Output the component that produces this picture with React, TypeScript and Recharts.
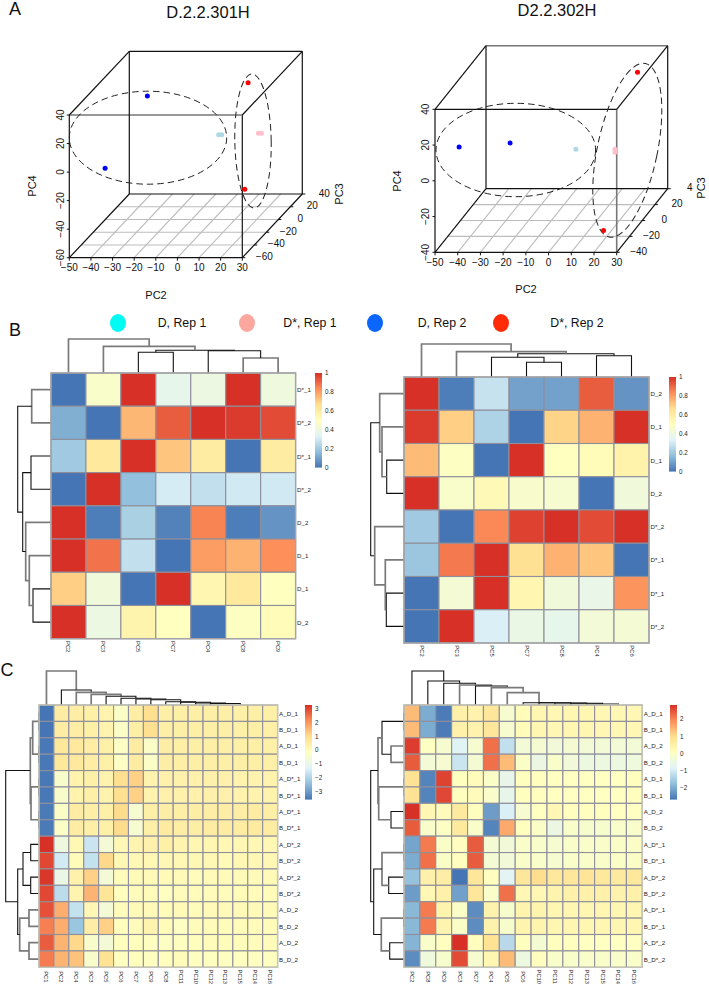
import React from "react";
import { Bar, BarChart, Scatter, ScatterChart, XAxis, YAxis } from "recharts";

const FONT = "'Liberation Sans', Arial, sans-serif";
const RAMP = ["#4575B4", "#91BFDB", "#E0F3F8", "#FFFFBF", "#FEE090", "#FC8D59", "#D73027"];

// panel A: [PC2, PC3, PC4]
const pts301Blue = [[-36.1, 20, 17.6], [-39, -40, -6.3]];
const pts301Light = [[5.2, -10, 3.9], [6.6, -10, 3.9]];
const pts301Pink = [[20.8, 0, 0.4], [22.2, 0, 0.4]];
const pts301Red = [[7.7, 30, 22.5], [22.8, -30, -25.5]];
const pts302Blue = [[-45, -20, 10], [-33.8, 20, -5.5]];
const pts302Light = [[0.8, 0, -0.2]];
const pts302Pink = [[15.2, 10, -4.6], [15.2, 10, -6.2]];
const pts302Red = [[19.5, 30, 29.6], [21.4, -30, -32.2]];

const pc2Ticks = [-50, -40, -30, -20, -10, 0, 10, 20, 30];
const pc3Ticks301 = [-60, -40, -20, 0, 20, 40];
const pc4Ticks301 = [-60, -40, -20, 0, 20, 40];
const pc3Ticks302 = [-40, -20, 0, 20, 40];
const pc4Ticks302 = [-40, -20, 0, 20, 40];

// panel B
const colsB1 = ["PC2", "PC3", "PC5", "PC7", "PC4", "PC8", "PC9"];
const rowsB1 = ["D*_1", "D*_2", "D*_1", "D*_2", "D_2", "D_1", "D_1", "D_2"];
const valsB1 = [
  [0, 0.47, 1, 0.37, 0.4, 1, 0.41],
  [0.13, 0, 0.75, 0.92, 1, 0.98, 0.95],
  [0.2, 0.62, 1, 0.72, 0.6, 0, 0.6],
  [0, 1, 0.17, 0.31, 0.27, 0.3, 0.3],
  [1, 0.02, 0.22, 0.03, 0.85, 0.02, 0.07],
  [1, 0.88, 0.27, 0, 0.8, 0.76, 0.83],
  [0.7, 0.42, 0, 1, 0.55, 0.62, 0.5],
  [1, 0.4, 0.56, 0.5, 0, 0.49, 0.52],
];
const colsB2 = ["PC2", "PC3", "PC5", "PC7", "PC8", "PC4", "PC6"];
const rowsB2 = ["D_2", "D_1", "D_1", "D_2", "D*_2", "D*_1", "D*_1", "D*_2"];
const valsB2 = [
  [1, 0.02, 0.28, 0.1, 0.1, 0.92, 0.07],
  [0.98, 0.7, 0.23, 0, 0.69, 0.76, 1],
  [0.74, 0.49, 0, 1, 0.5, 0.52, 0.57],
  [1, 0.47, 0.53, 0.46, 0.45, 0, 0.42],
  [0.2, 0, 0.84, 0.97, 1, 0.95, 1],
  [0.19, 0.87, 1, 0.66, 0.76, 0.72, 0],
  [0, 0.44, 1, 0.55, 0.42, 0.38, 0.82],
  [0, 1, 0.32, 0.39, 0.37, 0.43, 0.44],
];
const ticksB = [0, 0.2, 0.4, 0.6, 0.8, 1];

// panel C
const colsC1 = ["PC1", "PC2", "PC4", "PC3", "PC5", "PC6", "PC7", "PC9", "PC8", "PC11", "PC10", "PC12", "PC13", "PC15", "PC14", "PC16"];
const rowsC1 = ["A_D_1", "B_D_1", "A_D_1", "B_D_1", "A_D*_1", "B_D*_1", "A_D*_1", "B_D*_1", "A_D*_2", "B_D*_2", "A_D*_2", "B_D*_2", "A_D_2", "B_D_2", "A_D_2", "B_D_2"];
const valsC1 = [
  [-3.59, 0.55, 0.5, 0.4, 0.3, -0.3, 0.5, 1, 0.45, 0.45, 0.45, 0.45, 0.45, 0.4, 0.45, 0.4],
  [-3.59, 0.55, 0.5, 0.4, 0.3, -0.3, 0.45, 1, 0.45, 0.45, 0.45, 0.45, 0.45, 0.4, 0.45, 0.4],
  [-3.55, 0.7, 0.65, 0.5, 0.4, -0.25, 0.55, -0.3, 0.5, 0.45, 0.45, 0.45, 0.45, 0.4, 0.45, 0.4],
  [-3.55, 0.7, 0.65, 0.5, 0.4, -0.25, 0.55, -0.3, 0.5, 0.45, 0.45, 0.45, 0.45, 0.45, 0.45, 0.4],
  [-3.55, -0.4, 0.3, 0.4, 0.3, 1, 1.2, 0.3, 0.35, 0.35, 0.35, 0.35, 0.35, 0.3, 0.3, 0.3],
  [-3.55, -0.4, 0.3, 0.4, 0.3, 1, 1.2, 0.3, 0.35, 0.35, 0.35, 0.35, 0.35, 0.3, 0.3, 0.3],
  [-3.5, -0.3, 0.55, 0.45, 0.4, 1.05, -0.5, 0.45, 0.5, 0.45, 0.5, 0.5, 0.5, 0.5, 0.55, 0.45],
  [-3.5, -0.3, 0.55, 0.45, 0.4, 1.05, -0.5, 0.45, 0.6, 0.5, 0.5, 0.55, 0.55, 0.55, 0.6, 0.55],
  [3.29, -0.8, 0.1, -1.6, -0.6, 0.1, 0.25, 0.35, 0.4, 0.25, 0.2, 0.2, 0.15, 0.15, 0.1, 0.15],
  [3, -1.5, -0.05, -1.7, 1.1, 0.1, 0.1, 0.1, 0.15, 0.1, 0.1, 0.1, 0.05, 0.1, 0.1, 0.1],
  [3.2, -0.9, 0.35, 1.2, -0.6, -0.05, 0.05, 0.05, 0.05, 0.05, -0.05, 0.05, 0.05, 0.05, 0.05, 0.05],
  [3, -1.8, 0.25, 1.6, 0.8, -0.1, -0.05, -0.05, -0.2, -0.05, -0.05, -0.05, -0.05, 0, 0, 0],
  [2.9, 1.7, -1.7, 0.15, -0.6, -0.05, 0.05, 0.05, 0, 0.05, 0, 0.05, 0.05, 0.05, 0.05, 0.05],
  [2.3, 1.7, -2.3, 0.5, 1.2, -0.1, -0.05, 0.3, 0, -0.25, 0, 0, 0, 0, 0, 0],
  [2.75, 1.6, 1.1, -0.4, -0.6, -0.1, -0.1, -0.2, -0.25, -0.2, -0.1, -0.05, -0.05, -0.05, -0.05, -0.05],
  [2.35, 1.6, 1.4, -0.4, 0.9, -0.15, -0.1, -0.2, -0.1, -0.05, -0.2, -0.2, -0.2, -0.2, -0.2, -0.2],
];
const colsC2 = ["PC2", "PC8", "PC9", "PC3", "PC7", "PC4", "PC5", "PC6", "PC10", "PC11", "PC12", "PC13", "PC15", "PC14", "PC16"];
const rowsC2 = ["A_D_1", "B_D_1", "A_D_2", "B_D_2", "A_D_1", "B_D_1", "A_D_2", "B_D_2", "A_D*_1", "B_D*_1", "A_D*_2", "B_D*_2", "A_D*_1", "B_D*_1", "A_D*_2", "B_D*_2"];
const valsC2 = [
  [1.4, -2, -2.6, 0.5, 0.45, 0.8, -0.2, 0.2, 0.35, 0.3, 0.35, 0.35, 0.3, 0.3, 0.3],
  [1.4, -2, -2.6, 0.5, 0.45, 0.8, -0.2, 0.2, 0.35, 0.3, 0.35, 0.35, 0.3, 0.3, 0.3],
  [2.7, 0.05, -0.2, -0.8, -0.2, 2.2, -1.2, -0.3, -0.25, -0.35, -0.25, -0.3, -0.3, -0.3, -0.3],
  [2.4, -0.3, -0.2, -1.1, -0.25, 2.2, 1.4, -0.05, -0.5, -0.1, -0.35, -0.45, -0.45, -0.45, -0.4],
  [0.9, -2.5, 2.65, 0.1, 0.15, -0.05, -0.6, 0.1, 0.1, 0.05, 0.05, 0.05, 0.05, 0.05, 0.1],
  [0.9, -2.5, 2.6, 0.1, 0.15, -0.1, -0.6, 0.1, 0.1, 0.05, 0.05, 0.05, 0.05, 0.05, 0.1],
  [2.83, 0.3, 0.15, 0.7, 0.1, -2.2, -0.9, -0.2, 0.05, 0.3, 0.1, 0.1, 0.1, 0.05, 0.05],
  [2.4, -0.1, 0, 0.7, -0.1, -2.5, 1.6, 0.1, -0.05, -0.5, -0.1, -0.15, -0.15, -0.1, -0.1],
  [-2.1, 2.1, -0.05, 0.1, 2.4, -0.25, -0.35, -0.1, -0.1, -0.2, -0.1, -0.1, -0.1, -0.05, -0.05],
  [-2, 2.2, -0.05, 0.1, 2.4, -0.25, -0.35, -0.1, -0.1, -0.2, -0.1, -0.1, -0.1, -0.05, -0.05],
  [-1.7, 0.5, 0.6, -2.68, 0.8, 0.1, -0.75, 0.8, 1, 0.75, 0.8, 0.85, 0.75, 0.7, 0.75],
  [-2.2, 0.3, 0.5, -2.15, 0.8, -0.1, 2.2, 0.3, 0.3, 0.4, 0.5, 0.5, 0.5, 0.45, 0.5],
  [-1.85, 2.1, 0.4, -0.05, -2.4, 0.45, -0.15, 0.4, 0.4, 0.35, 0.35, 0.35, 0.35, 0.35, 0.35],
  [-1.85, 2.1, 0.4, -0.05, -2.4, 0.45, -0.15, 0.4, 0.4, 0.35, 0.35, 0.35, 0.35, 0.35, 0.35],
  [-1.9, -0.1, 0.1, 2.83, 0.1, 0.9, -1.3, 0.1, -0.25, 0.1, 0.1, 0.05, 0.05, 0.05, 0.05],
  [-2.4, -0.4, -0.15, 2.55, -0.2, 0.35, 1.4, -0.45, 0.1, -0.1, -0.1, -0.1, -0.1, -0.1, -0.1],
];
const ticksC1 = [-3, -2, -1, 0, 1, 2, 3];
const ticksC2 = [-2, -1, 0, 1, 2];

// dendrogram links: [leaf a, height a, leaf b, height b, join height]
const topB1 = [[5, 0, 6, 0, 15], [4, 0, 5.5, 15, 22.3], [2, 0, 3, 0, 20.7], [2.5, 20.7, 4.75, 22.3, 22.8], [1, 0, 3.62, 22.8, 26.7], [0, 0, 2.31, 26.7, 34]];
const topB1Gray = [0, 4, 5];
const sideB1 = [[0, 0, 1, 0, 19.3], [2, 0, 3, 0, 20], [6, 0, 7, 0, 18], [5, 0, 6.5, 18, 21.7], [4, 0, 5.75, 21.7, 25.3], [2.5, 20, 4.875, 25.3, 28.3], [0.5, 19.3, 3.69, 28.3, 33.3]];
const sideB1Gray = [0, 3, 4];
const topB2 = [[3, 0, 4, 0, 14.7], [2, 0, 3.5, 14.7, 19.7], [5, 0, 6, 0, 21.3], [2.75, 19.7, 5.5, 21.3, 23.3], [1, 0, 4.13, 23.3, 25.3], [0, 0, 2.56, 25.3, 33]];
const topB2Gray = [4, 5];
const sideB2 = [[2, 0, 3, 0, 17.3], [1, 0, 2.5, 17.3, 22], [0, 0, 1.75, 22, 24.3], [0.875, 24.3, 4.875, 29.3, 33.3], [6, 0, 7, 0, 17.7], [5, 0, 6.5, 17.7, 18.7], [4, 0, 5.75, 18.7, 29.3]];
const sideB2Gray = [1, 2, 5, 6];
const topC1Heights = [34, 15, 12.7, 10.7, 8.7, 6.7, 6, 5.3, 3.3, 2.7, 2, 1.5];
const sideC1 = [[0, 0, 1, 0, 0.3], [2, 0, 3, 0, 0.3], [4, 0, 5, 0, 0.3], [6, 0, 7, 0, 0.3], [0.5, 0.3, 2.5, 0.3, 6.3], [4.5, 0.3, 6.5, 0.3, 8], [1.5, 6.3, 5.5, 8, 8.7], [8, 0, 9, 0, 8.3], [10, 0, 11, 0, 8.3], [8.5, 8.3, 10.5, 8.3, 16], [12, 0, 13, 0, 10], [14, 0, 15, 0, 10], [12.5, 10, 14.5, 10, 19.3], [9.5, 16, 13.5, 19.3, 21.3], [3.5, 8.7, 11.5, 21.3, 33.3]];
const sideC1Gray = [4, 5, 6, 10, 11, 12];
const topC2Heights = [34, 24, 21.7, 20, 19, 17.3, 12.3, 2.3, 2.3, 2, 1.7, 1];
const sideC2 = [[0, 0, 1, 0, 0.3], [2, 0, 3, 0, 13], [0.5, 0.3, 2.5, 13, 22], [4, 0, 5, 0, 0.3], [6, 0, 7, 0, 13], [4.5, 0.3, 6.5, 13, 25.3], [1.5, 22, 5.5, 25.3, 26], [8, 0, 9, 0, 0.3], [10, 0, 11, 0, 15.3], [8.5, 0.3, 10.5, 15.3, 22], [12, 0, 13, 0, 0.3], [14, 0, 15, 0, 14.3], [12.5, 0.3, 14.5, 14.3, 22.7], [9.5, 22, 13.5, 22.7, 30.3], [3.5, 26, 11.5, 30.3, 33.3]];
const sideC2Gray = [1, 5, 6, 9, 12];

const ladder = (heights: number[]) =>
  heights.map((h, k) => [k, 0, k + 2, heights[k + 1] || 0, h]);

const minus = (v: number | string) => String(v).replace("-", "\u2212");

const rampColor = (t: number) => {
  const p = Math.max(0, Math.min(1, t)) * (RAMP.length - 1);
  const i = Math.min(Math.floor(p), RAMP.length - 2);
  const f = p - i;
  const c = (s: string, o: number) => parseInt(s.slice(o, o + 2), 16);
  const mix = (o: number) => Math.round(c(RAMP[i], o) + (c(RAMP[i + 1], o) - c(RAMP[i], o)) * f);
  return `rgb(${mix(1)},${mix(3)},${mix(5)})`;
};

const noPoint = () => <g />;

function Txt({ x, y, size, rotate = 0, children }: any) {
  return (
    <div
      style={{
        position: "absolute",
        left: x,
        top: y,
        fontSize: size,
        whiteSpace: "nowrap",
        color: "#111",
        transform: `translate(-50%,-50%) rotate(${rotate}deg)`,
      }}
    >
      {children}
    </div>
  );
}

function Dendro({ links, gray, size, span, side, left, top }: any) {
  const width = side ? size : span[0];
  const height = side ? span[1] : size;
  const count = span[2];
  const series = links.map((l: number[], i: number) => {
    const [a, ha, b, hb, h] = l;
    const raw = [[a + 0.5, ha], [a + 0.5, h], [b + 0.5, h], [b + 0.5, hb]];
    const data = raw.map(([pos, hgt]) => (side ? { x: hgt, y: pos } : { x: pos, y: hgt }));
    const isGray = gray.includes(i);
    return (
      <Scatter
        key={i}
        data={data}
        isAnimationActive={false}
        shape={noPoint}
        line={{ stroke: isGray ? "#7a7a7a" : "#111", strokeWidth: isGray ? 1.7 : 1.1 }}
      />
    );
  });
  return (
    <div style={{ position: "absolute", left, top }}>
      <ScatterChart width={width} height={height} margin={{ top: 0, right: 0, bottom: 0, left: 0 }}>
        <XAxis type="number" dataKey="x" hide domain={side ? [0, size] : [0, count]} reversed={side} />
        <YAxis type="number" dataKey="y" hide domain={side ? [0, count] : [0, size]} reversed={side} />
        {series}
      </ScatterChart>
    </div>
  );
}

function ColorBar({ id, left, top, height, min, max, ticks }: any) {
  return (
    <div style={{ position: "absolute", left, top: top - 6 }}>
      <BarChart
        width={29}
        height={height + 12}
        data={[{ k: "scale", range: [min, max] }]}
        margin={{ top: 6, right: 0, bottom: 6, left: 0 }}
        barCategoryGap={0}
      >
        <defs>
          <linearGradient id={id} x1="0" y1="1" x2="0" y2="0">
            {RAMP.map((c, i) => (
              <stop key={c} offset={i / (RAMP.length - 1)} stopColor={c} />
            ))}
          </linearGradient>
        </defs>
        <XAxis dataKey="k" hide />
        <YAxis
          orientation="right"
          type="number"
          width={22}
          domain={[min, max]}
          ticks={ticks}
          interval={0}
          axisLine={false}
          tickLine={false}
          tickSize={0}
          tickMargin={3}
          tickFormatter={minus}
          tick={{ fontSize: 6.3, fill: "#222", fontFamily: FONT }}
        />
        <Bar dataKey="range" fill={`url(#${id})`} isAnimationActive={false} />
      </BarChart>
    </div>
  );
}

function Heatmap({ name, left, top, width, height, cols, rows, values, min, max, ticks, barX, labelGap, frame, topLinks, topGray, sideLinks, sideGray }: any) {
  const cw = width / cols.length;
  const ch = height / rows.length;
  const cells = values.flatMap((row: number[], r: number) =>
    row.map((v, c) => ({ x: c + 0.5, y: r + 0.5, v }))
  );
  const colTicks = cols.map((_: string, i: number) => i + 0.5);
  const rowTicks = rows.map((_: string, i: number) => i + 0.5);
  return (
    <>
      <Dendro links={topLinks} gray={topGray} size={36} span={[width, height, cols.length]} left={left} top={top - 36} />
      <Dendro links={sideLinks} gray={sideGray} size={36} side span={[width, height, rows.length]} left={left - 36} top={top} />
      <div style={{ position: "absolute", left: left - 2, top: top - 2 }}>
        <ScatterChart
          width={width + 2 + 30}
          height={height + 2 + 30}
          margin={{ top: 2, right: 0, bottom: 0, left: 2 }}
        >
          <XAxis
            type="number"
            dataKey="x"
            domain={[0, cols.length]}
            ticks={colTicks}
            interval={0}
            height={30}
            axisLine={false}
            tickLine={false}
            tick={({ x, y, payload }: any) => (
              <text
                x={x}
                y={y + labelGap}
                fontSize={5.8}
                fill="#222"
                fontFamily={FONT}
                textAnchor="middle"
                dominantBaseline="central"
                transform={`rotate(90 ${x} ${y + labelGap})`}
              >
                {cols[Math.floor(payload.value)]}
              </text>
            )}
          />
          <YAxis
            type="number"
            dataKey="y"
            reversed
            orientation="right"
            width={30}
            domain={[0, rows.length]}
            ticks={rowTicks}
            interval={0}
            axisLine={false}
            tickLine={false}
            tick={({ x, y, payload }: any) => (
              <text x={x - 6.5} y={y} fontSize={6.2} fill="#222" fontFamily={FONT} dominantBaseline="central">
                {rows[Math.floor(payload.value)]}
              </text>
            )}
          />
          <Scatter
            data={cells}
            isAnimationActive={false}
            shape={({ cx, cy, payload }: any) => (
              <rect
                x={cx - cw / 2}
                y={cy - ch / 2}
                width={cw}
                height={ch}
                fill={rampColor((payload.v - min) / (max - min))}
                stroke="#8f8f9c"
                strokeWidth={1.1}
              />
            )}
          />
          <Scatter
            data={[{ x: cols.length / 2, y: rows.length / 2 }]}
            isAnimationActive={false}
            shape={({ cx, cy }: any) => (
              <rect x={cx - width / 2} y={cy - height / 2} width={width} height={height} fill="none" stroke={frame} strokeWidth={1.4} />
            )}
          />
        </ScatterChart>
      </div>
      <ColorBar id={`bar-${name}`} left={barX} top={top} height={94.6} min={min} max={max} ticks={ticks} />
    </>
  );
}

function Cube({ geo, blue, light, pink, red, pc3Ticks, pc4Ticks, pc3Labels, ellipses, grayEdges }: any) {
  const project = ([a, b, c]: number[]) => {
    const ta = (a - geo.a[0]) / (geo.a[1] - geo.a[0]);
    const tb = (b - geo.b[0]) / (geo.b[1] - geo.b[0]);
    const tc = (c - geo.c[0]) / (geo.c[1] - geo.c[0]);
    return { x: geo.fx + ta * geo.w + tb * geo.dx, y: geo.by - tc * geo.h - tb * geo.dy };
  };
  const [a0, a1] = geo.a;
  const [b0, b1] = geo.b;
  const [c0, c1] = geo.c;
  const edges = [
    [[a0, b0, c0], [a1, b0, c0]], [[a1, b0, c0], [a1, b0, c1]], [[a1, b0, c1], [a0, b0, c1]], [[a0, b0, c1], [a0, b0, c0]],
    [[a0, b1, c0], [a1, b1, c0]], [[a1, b1, c0], [a1, b1, c1]], [[a1, b1, c1], [a0, b1, c1]], [[a0, b1, c1], [a0, b1, c0]],
    [[a0, b0, c0], [a0, b1, c0]], [[a1, b0, c0], [a1, b1, c0]], [[a1, b0, c1], [a1, b1, c1]], [[a0, b0, c1], [a0, b1, c1]],
  ];
  const floor = [
    ...pc2Ticks.slice(1, -1).map((t) => [[t, b0, c0], [t, b1, c0]]),
    ...pc3Ticks.slice(1, -1).map((t: number) => [[a0, t, c0], [a1, t, c0]]),
  ];
  const segment = (seg: number[][], key: string, stroke: string, strokeWidth: number) => (
    <Scatter
      key={key}
      data={seg.map(project)}
      isAnimationActive={false}
      shape={noPoint}
      line={{ stroke, strokeWidth }}
    />
  );
  const dots = (list: number[][], fill: string, key: string) => (
    <Scatter
      key={key}
      data={list.map(project)}
      isAnimationActive={false}
      shape={({ cx, cy }: any) => <circle cx={cx} cy={cy} r={2.5} fill={fill} />}
    />
  );
  const tickText = (key: string, data: any[], render: (p: any) => React.ReactElement) => (
    <Scatter key={key} data={data} isAnimationActive={false} shape={render} />
  );
  const textProps = { fontSize: 10, fill: "#111", fontFamily: FONT, textAnchor: "middle" as const, dominantBaseline: "central" as const };
  return (
    <div style={{ position: "absolute", left: 0, top: 0 }}>
      <ScatterChart width={709} height={305} margin={{ top: 0, right: 0, bottom: 0, left: 0 }}>
        <XAxis type="number" dataKey="x" hide domain={[0, 709]} />
        <YAxis type="number" dataKey="y" hide reversed domain={[0, 305]} />
        {floor.map((seg, i) => segment(seg, `floor${i}`, "#bdbdbd", 1.1))}
        {edges.map((seg, i) =>
          grayEdges.includes(i) ? segment(seg, `edge${i}`, "#777", 1.6) : segment(seg, `edge${i}`, "#111", 1.2)
        )}
        {tickText(
          "pc2",
          pc2Ticks.map((t) => ({ ...project([t, b0, c0]), label: t })),
          ({ cx, cy, payload }: any) => (
            <g>
              <line x1={cx} x2={cx} y1={cy} y2={cy + 3} stroke="#111" />
              <text x={cx} y={cy + 10} {...textProps}>{minus(payload.label)}</text>
            </g>
          )
        )}
        {tickText(
          "pc4",
          pc4Ticks.map((t: number) => ({ ...project([a0, b0, t]), label: t })),
          ({ cx, cy, payload }: any) => (
            <g>
              <line x1={cx - 2.5} x2={cx} y1={cy} y2={cy} stroke="#111" />
              <text x={cx - 9} y={cy} {...textProps} transform={`rotate(-90 ${cx - 9} ${cy})`}>
                {minus(payload.label)}
              </text>
            </g>
          )
        )}
        {tickText(
          "pc3",
          pc3Ticks.map((t: number, i: number) => ({ ...project([a1, t, c0]), label: pc3Labels[i] })),
          ({ cx, cy, payload }: any) => (
            <g>
              <line x1={cx} x2={cx + 3} y1={cy} y2={cy} stroke="#111" />
              <text x={cx + 22} y={cy - 1} {...textProps}>{minus(payload.label)}</text>
            </g>
          )
        )}
        {ellipses.map((e: any, i: number) => (
          <Scatter
            key={`ell${i}`}
            data={[{ x: e.x, y: e.y }]}
            isAnimationActive={false}
            shape={({ cx, cy }: any) => (
              <ellipse
                cx={cx}
                cy={cy}
                rx={e.rx}
                ry={e.ry}
                fill="none"
                stroke="#222"
                strokeWidth={1}
                strokeDasharray="6.5 4"
                transform={`rotate(${e.rot} ${cx} ${cy})`}
              />
            )}
          />
        ))}
        {dots(light, "#add8e6", "light")}
        {dots(pink, "#ffc0cb", "pink")}
        {dots(blue, "#0000ff", "blue")}
        {dots(red, "#ff0000", "red")}
      </ScatterChart>
    </div>
  );
}

const legendItems = [
  { cx: 118, color: "#00fbf3", label: "D, Rep 1", tx: 182 },
  { cx: 247, color: "#fba79e", label: "D*, Rep 1", tx: 310 },
  { cx: 375, color: "#0a66ff", label: "D, Rep 2", tx: 442 },
  { cx: 501, color: "#ff2a08", label: "D*, Rep 2", tx: 577 },
];

export default function App() {
  return (
    <div style={{ position: "absolute", left: 0, top: 0, width: 709, height: 985, background: "#fff", fontFamily: FONT, overflow: "hidden" }}>
      <Cube
        geo={{ a: [-50, 30], b: [-60, 40], c: [-60, 40], fx: 69.3, by: 257.7, w: 173, h: 142.7, dx: 60, dy: 63.7 }}
        blue={pts301Blue}
        light={pts301Light}
        pink={pts301Pink}
        red={pts301Red}
        pc3Ticks={pc3Ticks301}
        pc4Ticks={pc4Ticks301}
        pc3Labels={pc3Ticks301}
        grayEdges={[2]}
        ellipses={[
          { x: 148, y: 137.7, rx: 78.7, ry: 46.5, rot: 0 },
          { x: 253, y: 141, rx: 18.2, ry: 67, rot: -1 },
        ]}
      />
      <Cube
        geo={{ a: [-50, 30], b: [-40, 40], c: [-40, 40], fx: 435, by: 252.3, w: 181.7, h: 143, dx: 51, dy: 63.6 }}
        blue={pts302Blue}
        light={pts302Light}
        pink={pts302Pink}
        red={pts302Red}
        pc3Ticks={pc3Ticks302}
        pc4Ticks={pc4Ticks302}
        pc3Labels={[-40, -20, 0, 20, 4]}
        grayEdges={[1, 6]}
        ellipses={[
          { x: 515.8, y: 150, rx: 79.8, ry: 46.7, rot: 0 },
          { x: 627.3, y: 150.3, rx: 30, ry: 88.6, rot: 11.8 },
        ]}
      />
      <Txt x={15} y={9} size={18}>A</Txt>
      <Txt x={15} y={330} size={18}>B</Txt>
      <Txt x={7} y={670} size={18}>C</Txt>
      <Txt x={208} y={12} size={16.5}>D.2.2.301H</Txt>
      <Txt x={557} y={9.5} size={16.5}>D2.2.302H</Txt>
      <Txt x={156} y={295} size={11}>PC2</Txt>
      <Txt x={32} y={186} size={11} rotate={-90}>PC4</Txt>
      <Txt x={339} y={194} size={11} rotate={-90}>PC3</Txt>
      <Txt x={526} y={289} size={11}>PC2</Txt>
      <Txt x={397} y={181} size={11} rotate={-90}>PC4</Txt>
      <Txt x={701} y={188} size={11} rotate={-90}>PC3</Txt>
      {legendItems.map((item) => (
        <React.Fragment key={item.label}>
          <div style={{ position: "absolute", left: item.cx - 8, top: 314, width: 16, height: 18, borderRadius: "50%", background: item.color }} />
          <Txt x={item.tx} y={323} size={12.3}>{item.label}</Txt>
        </React.Fragment>
      ))}
      <Heatmap
        name="B1" left={50.7} top={373.3} width={244.6} height={265.7} labelGap={0} frame="#a5a5a5"
        cols={colsB1} rows={rowsB1} values={valsB1} min={0} max={1} ticks={ticksB} barX={315.3}
        topLinks={topB1} topGray={topB1Gray} sideLinks={sideB1} sideGray={sideB1Gray}
      />
      <Heatmap
        name="B2" left={403.7} top={377} width={245} height={266} labelGap={0} frame="#a5a5a5"
        cols={colsB2} rows={rowsB2} values={valsB2} min={0} max={1} ticks={ticksB} barX={669}
        topLinks={topB2} topGray={topB2Gray} sideLinks={sideB2} sideGray={sideB2Gray}
      />
      <Heatmap
        name="C1" left={38.7} top={705} width={238.6} height={262.3} labelGap={1.5} frame="#c4c4b6"
        cols={colsC1} rows={rowsC1} values={valsC1} min={-3.59} max={3.29} ticks={ticksC1} barX={305}
        topLinks={ladder(topC1Heights)} topGray={[0, 2, 3]} sideLinks={sideC1} sideGray={sideC1Gray}
      />
      <Heatmap
        name="C2" left={403.7} top={705} width={238.3} height={262.3} labelGap={1.5} frame="#c4c4b6"
        cols={colsC2} rows={rowsC2} values={valsC2} min={-2.68} max={2.83} ticks={ticksC2} barX={670}
        topLinks={ladder(topC2Heights)} topGray={[3, 5, 6]} sideLinks={sideC2} sideGray={sideC2Gray}
      />
    </div>
  );
}
